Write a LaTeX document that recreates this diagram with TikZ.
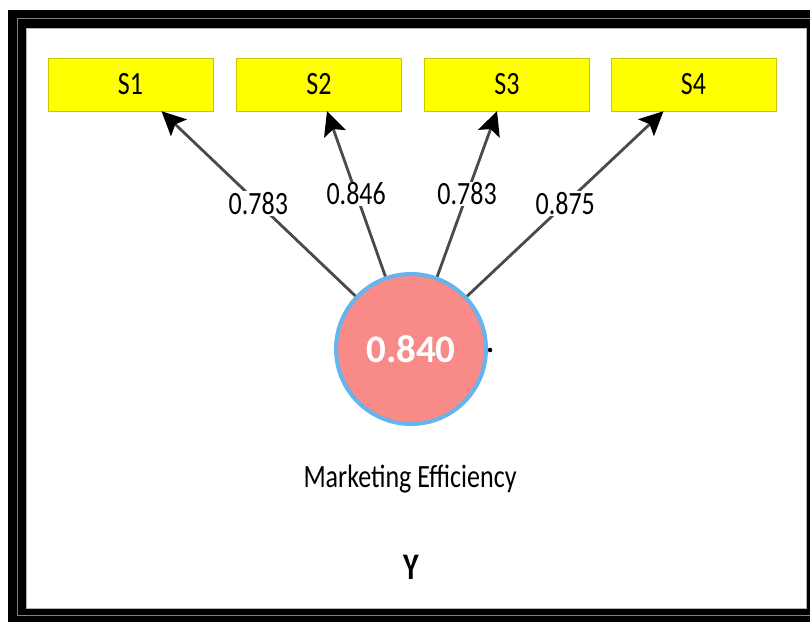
\documentclass[tikz,border=0pt]{standalone}
\usepackage{fontspec}
\setmainfont{Carlito}
\usepackage{graphicx}
\usetikzlibrary{arrows.meta}
\definecolor{boxyellow}{HTML}{FFFF00}
\definecolor{boxedge}{HTML}{C8C800}
\definecolor{lvfill}{HTML}{F88A88}
\definecolor{lvedge}{HTML}{64B4F0}
\definecolor{pathgray}{HTML}{4A4A4A}
\newcommand{\tallfont}[1]{\scalebox{1}[1.25]{#1}}

\begin{document}
\begin{tikzpicture}[x=1pt, y=-1pt,
    item/.style = {draw=boxedge, fill=boxyellow, rectangle, minimum width=165pt, minimum height=53pt, inner sep=0pt, font=\fontsize{26}{30}\selectfont},
    latent/.style = {draw=lvedge, fill=lvfill, circle, line width=4pt, minimum size=150pt, inner sep=0pt, text=white, font=\fontsize{39}{44}\selectfont\bfseries},
    loading/.style = {fill=white, inner sep=1pt, font=\fontsize{26}{30}\selectfont},
    loadarrow/.style = {draw=pathgray, line width=2.8pt, -{Stealth[length=24pt, width=23pt, inset=5pt, color=black]}}]
        \useasboundingbox (0,0) rectangle (810,626);
        % double black frame
        \fill[black] (8,10) rectangle (810,622);
        \draw[gray, line width=1pt] (17,19) rectangle (812,615);
        \filldraw[fill=white, draw=gray!60] (26,28) rectangle (806,608);
        % indicators
        \node[item] (S1) at (130.5, 84.5) {\tallfont{S1}};
        \node[item] (S2) at (319, 84.5) {\tallfont{S2}};
        \node[item] (S3) at (507, 84.5) {\tallfont{S3}};
        \node[item] (S4) at (693.5, 84.5) {\tallfont{S4}};
        % construct
        \node[latent] (ME) at (411, 349) {0.840};
        \node[circle, fill=black, inner sep=1.6pt] (dot) at (490, 350) {};
        \node[font=\fontsize{26}{30}\selectfont] (name) at (410, 479) {\tallfont{Marketing Efficiency}};
        \node[font=\fontsize{30}{34}\selectfont\bfseries] (Y) at (411, 567) {\tallfont{Y}};
        % outer loadings
        \draw[loadarrow] (ME) -- node[loading] {\tallfont{0.783}} ([xshift=31pt]S1.south);
        \draw[loadarrow] (ME) -- node[loading] {\tallfont{0.846}} ([xshift=8pt]S2.south);
        \draw[loadarrow] (ME) -- node[loading] {\tallfont{0.783}} ([xshift=-10pt]S3.south);
        \draw[loadarrow] (ME) -- node[loading] {\tallfont{0.875}} ([xshift=-30pt]S4.south);
    \end{tikzpicture}
\end{document}
